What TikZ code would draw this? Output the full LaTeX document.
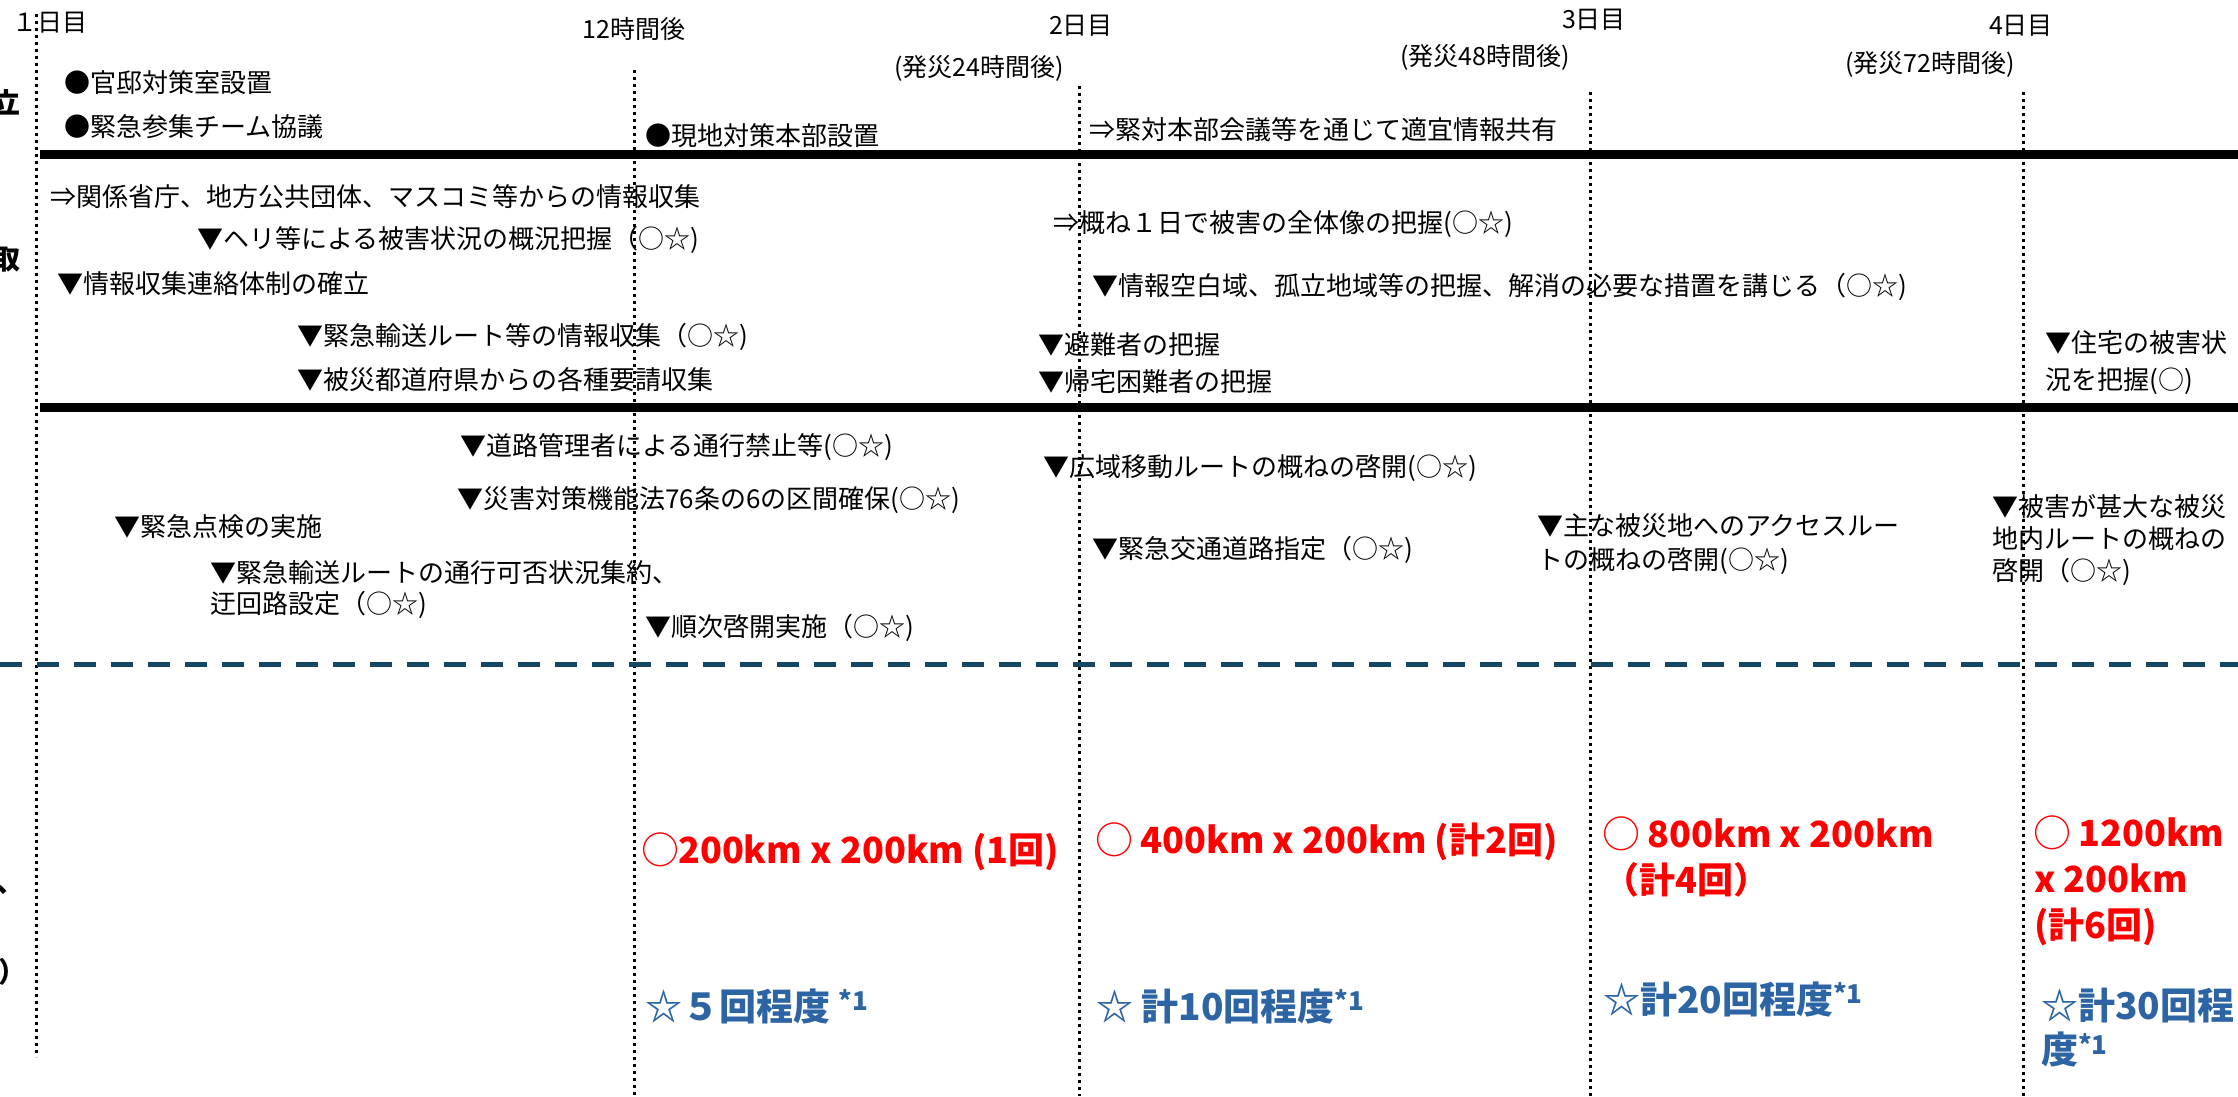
\documentclass[tikz,border=0pt]{standalone}
\usepackage{fontspec}
\setmainfont{Noto Sans CJK JP}
\usepackage{xcolor}
\usepackage{tikz}
\usetikzlibrary{calc}

\definecolor{areared}{RGB}{255,0,0}
\definecolor{areablue}{RGB}{44,100,164}
\definecolor{splitline}{RGB}{20,72,98}

\begin{document}
\begin{tikzpicture}[x=1pt,y=-1pt,
		lbl/.style={inner sep=0pt,anchor=west,align=left,font=\fontsize{26}{32}\selectfont},
		hdr/.style={inner sep=0pt,font=\fontsize{25}{30}\selectfont},
		cut/.style={inner sep=0pt,font=\bfseries\fontsize{28}{32}\selectfont},
		redtxt/.style={lbl,text=areared,font=\bfseries\fontsize{36}{46}\selectfont},
		bluetxt/.style={lbl,text=areablue,font=\bfseries\fontsize{37}{44}\selectfont},
		vline/.style={line width=3pt,dash pattern=on 3pt off 4pt},
		hline/.style={line width=9pt},
		splitdash/.style={splitline,line width=5pt,dash pattern=on 22pt off 15pt}]
		
		\useasboundingbox (0,0) rectangle (2238,1096);
		\clip (0,0) rectangle (2238,1096);
		
		\coordinate (v1t) at (36,14);
		\coordinate (v1b) at (36,1057);
		\coordinate (v2t) at (634,70);
		\coordinate (v2b) at (634,1096);
		\coordinate (v3t) at (1079,86);
		\coordinate (v3b) at (1079,1096);
		\coordinate (v4t) at (1590,92);
		\coordinate (v4b) at (1590,1096);
		\coordinate (v5t) at (2023,92);
		\coordinate (v5b) at (2023,1096);
		
		\draw[vline] (v1t) -- (v1b);
		\draw[vline] (v2t) -- (v2b);
		\draw[vline] (v3t) -- (v3b);
		\draw[vline] (v4t) -- (v4b);
		\draw[vline] (v5t) -- (v5b);
		
		\coordinate (h1l) at (40,154);
		\coordinate (h1r) at (2238,154);
		\coordinate (h2l) at (40,407);
		\coordinate (h2r) at (2238,407);
		\coordinate (dl) at (0,664);
		\coordinate (dr) at (2238,664);
		
		\draw[hline] (h1l) -- (h1r);
		\draw[hline] (h2l) -- (h2r);
		\draw[splitdash] (dl) -- (dr);
		
		\node[hdr,anchor=west] (day1) at (12,23) {１日目};
		\node[hdr] (h12) at (634,29) {12時間後};
		\node[hdr] (day2) at (1081,26) {2日目};
		\node[hdr,anchor=east] (h24) at (1064,68) {(発災24時間後)};
		\node[hdr] (day3) at (1594,20) {3日目};
		\node[hdr,anchor=east] (h48) at (1570,57) {(発災48時間後)};
		\node[hdr] (day4) at (2021,26) {4日目};
		\node[hdr,anchor=east] (h72) at (2015,64) {(発災72時間後)};
		
		\node[cut,anchor=west] (sec1) at (-8,102) {立};
		\node[cut,anchor=west] (sec2) at (-8,260) {取};
		\node[cut,anchor=base west] (sec4a) at (-4,892) {、};
		\node[cut,anchor=west] (sec4b) at (-2,972) {）};
		
		\node[lbl] (a1) at (64,83) {●官邸対策室設置};
		\node[lbl] (a2) at (64,127) {●緊急参集チーム協議};
		\node[lbl] (a3) at (645,136) {●現地対策本部設置};
		\node[lbl] (a4) at (1089,130) {⇒緊対本部会議等を通じて適宜情報共有};
		
		\node[lbl] (c1) at (50,197) {⇒関係省庁、地方公共団体、マスコミ等からの情報収集};
		\node[lbl] (c2) at (197,240) {▼ヘリ等による被害状況の概況把握（○☆)};
		\node[lbl] (c3) at (57,284) {▼情報収集連絡体制の確立};
		\node[lbl] (c4) at (297,337) {▼緊急輸送ルート等の情報収集（○☆)};
		\node[lbl] (c5) at (297,380) {▼被災都道府県からの各種要請収集};
		\node[lbl] (c6) at (1053,224) {⇒概ね１日で被害の全体像の把握(○☆)};
		\node[lbl] (c7) at (1092,287) {▼情報空白域、孤立地域等の把握、解消の必要な措置を講じる（○☆)};
		\node[lbl] (c8) at (1038,345) {▼避難者の把握};
		\node[lbl] (c9) at (1038,382) {▼帰宅困難者の把握};
		\node[lbl,font=\fontsize{26}{37}\selectfont] (c10) at (2045,363) {▼住宅の被害状\\況を把握(○)};
		
		\node[lbl] (d1) at (460,447) {▼道路管理者による通行禁止等(○☆)};
		\node[lbl] (d2) at (457,500) {▼災害対策機能法76条の6の区間確保(○☆)};
		\node[lbl] (d3) at (114,527) {▼緊急点検の実施};
		\node[lbl,font=\fontsize{26}{31}\selectfont] (d4) at (210,590) {▼緊急輸送ルートの通行可否状況集約、\\迂回路設定（○☆)};
		\node[lbl] (d5) at (645,628) {▼順次啓開実施（○☆)};
		\node[lbl] (d6) at (1043,468) {▼広域移動ルートの概ねの啓開(○☆)};
		\node[lbl] (d7) at (1092,550) {▼緊急交通道路指定（○☆)};
		\node[lbl,font=\fontsize{26}{34}\selectfont] (d8) at (1537,544) {▼主な被災地へのアクセスルー\\トの概ねの啓開(○☆)};
		\node[lbl] (d9) at (1992,540) {▼被害が甚大な被災\\地内ルートの概ねの\\啓開（○☆)};
		
		\node[redtxt] (r1) at (642,852) {◯200km x 200km (1回)};
		\node[redtxt] (r2) at (1096,842) {◯ 400km x 200km (計2回)};
		\node[redtxt] (r3) at (1603,857) {◯ 800km x 200km\\（計4回）};
		\node[redtxt] (r4) at (2034,881) {◯ 1200km\\x 200km\\(計6回)};
		
		\node[bluetxt] (b1) at (645,1006) {☆５回程度 \textsuperscript{*1}};
		\node[bluetxt] (b2) at (1096,1006) {☆ 計10回程度\textsuperscript{*1}};
		\node[bluetxt] (b3) at (1603,999) {☆計20回程度\textsuperscript{*1}};
		\node[bluetxt] (b4) at (2041,1028) {☆計30回程\\度\textsuperscript{*1}};
		
	\end{tikzpicture}
\end{document}
